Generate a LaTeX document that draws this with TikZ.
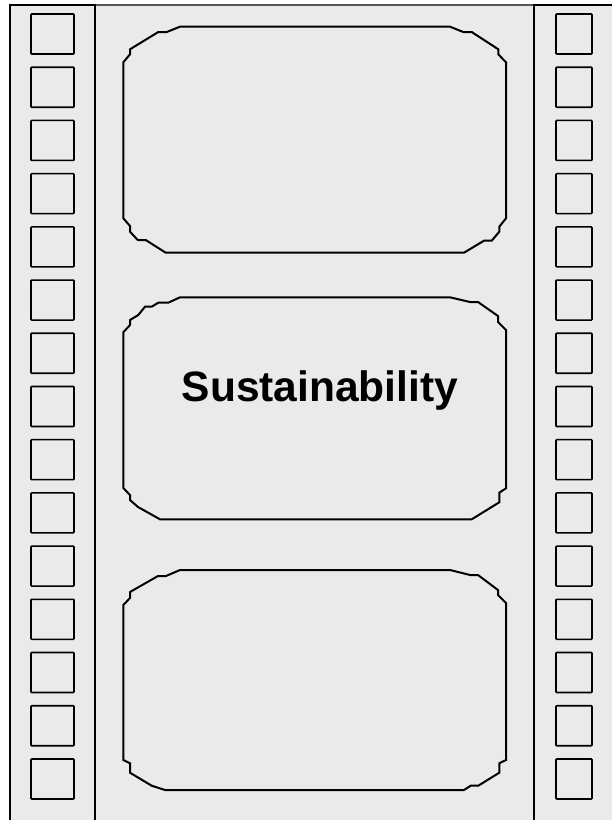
\documentclass[tikz,border=0pt]{standalone}
\usepackage{fontspec}
\setmainfont{Liberation Sans}
\definecolor{filmgray}{HTML}{EAEAEA}
\definecolor{edgegray}{HTML}{555555}
\begin{document}
\begin{tikzpicture}[x=1pt,y=-1pt,
  hole/.style={draw=black,line width=1.6pt,fill=filmgray,rounded corners=0.8pt},
  frame/.style={draw=black,line width=2pt,line join=miter},
  strip/.style={draw=black,line width=2.2pt,fill=filmgray},
  label/.style={font=\fontsize{42.5}{42.5}\selectfont\bfseries,text=black}]
\useasboundingbox (0,0) rectangle (611,820);
% centre band
\fill[filmgray] (10,5) rectangle (611,830);
\draw[edgegray,line width=1.5pt] (95,5) -- (534,5);
% side strips
\draw[strip] (534,5) rectangle (616,830);
\draw[strip] (10,5) rectangle (95,830);
% sprocket holes
\foreach \k in {0,...,14}{
  \pgfmathsetmacro{\yt}{14+53.21*\k}
  \draw[hole] (31,\yt) rectangle (74,\yt+40);
  \draw[hole] (556,\yt) rectangle (592,\yt+40);
}
% frames
\draw[frame] (123.3,62.3) -- (130,54.3) -- (130,49.3) -- (158.3,32) -- (166.7,32) -- (180,26.7)
  -- (450,26.7) -- (463.3,32) -- (471.7,32) -- (498.3,49.3) -- (498.3,54.3) -- (506,62.3)
  -- (506,218.3) -- (499.3,226.7) -- (499.3,231.7) -- (491.7,240.7) -- (484,240.7) -- (464,252.7)
  -- (165.7,252.7) -- (145.7,240) -- (137.7,240) -- (130,231.7) -- (130,226) -- (123.3,218.3) -- cycle;
\draw[frame] (123.3,332.3) -- (130,325) -- (130,320) -- (138.3,315) -- (145,306.7) -- (151.7,306.7) -- (158.3,302.7) -- (168.3,302.7) -- (180,297.3)
  -- (450,297.3) -- (470,302) -- (478,302) -- (498,316) -- (498,322) -- (506,330)
  -- (506,488.3) -- (499.3,492.7) -- (499.3,502.3) -- (471.7,519.3)
  -- (160,519.3) -- (138,507) -- (130,500) -- (130,495) -- (123.3,488) -- cycle;
\draw[frame] (123.3,605) -- (130,598) -- (130,592) -- (158,576) -- (166,576) -- (180,570)
  -- (450,570) -- (470,575) -- (478,575) -- (498,590) -- (498,595) -- (506,603)
  -- (506,760) -- (499.3,763.3) -- (499.3,772.7) -- (478.3,785.7) -- (470.7,785.7) -- (464,790)
  -- (165,790) -- (151.7,785.7) -- (130,772.7) -- (130,763.3) -- (123.3,760) -- cycle;
\node[label] (title) at (320,391) {Sustainability};
\end{tikzpicture}
\end{document}
